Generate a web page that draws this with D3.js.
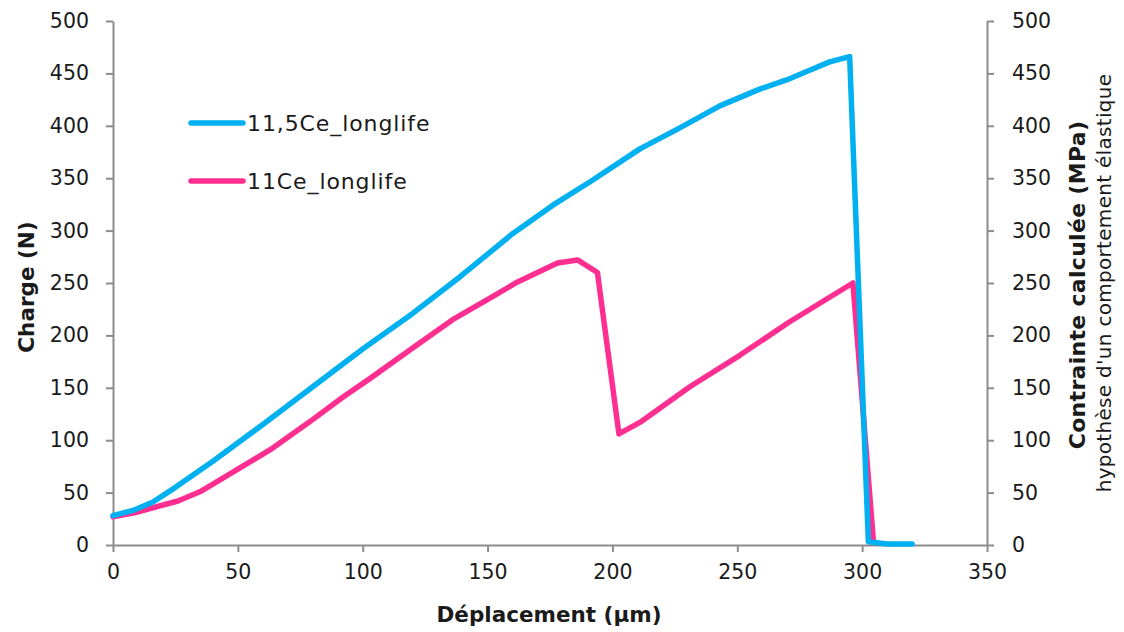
<!DOCTYPE html>
<html><head><meta charset="utf-8">
<script src="https://cdn.jsdelivr.net/npm/d3@7"></script>
<style>body{margin:0;background:#fff;} svg{display:block;font-family:"DejaVu Sans",sans-serif;}</style>
</head><body>
<svg id="c" width="1124" height="632"></svg>
<script>
const seriesNames = ["11,5Ce_longlife", "11Ce_longlife"];
const seriesColors = ["#00B0F0", "#FF2F92"];
const blueX = [0, 8, 16, 25, 40, 60, 80, 100, 120, 139, 160, 176, 192, 211, 227, 243, 259, 270, 278, 287, 295, 302.5, 310, 320];
const blueY = [28, 33, 41, 55, 80, 115, 151, 187, 221, 256, 297, 324, 348, 378, 398, 419, 435, 444, 452, 461, 466, 3, 1, 1];
const pinkX = [0, 9, 26, 35, 47, 63, 79, 92, 103, 120, 136, 152, 162, 178, 186, 194, 202.6, 211.7, 231, 251, 271, 296.3, 304.5];
const pinkY = [27, 31, 42, 51, 68, 91, 118, 141, 159, 188, 215, 237, 251, 269, 272, 260, 106, 118, 151, 181, 213, 250, 4];
const xTicks = [0, 50, 100, 150, 200, 250, 300, 350];
const yTicks = [0, 50, 100, 150, 200, 250, 300, 350, 400, 450, 500];
const xTitle = "Déplacement (µm)";
const yTitle = "Charge (N)";
const y2Title = "Contrainte calculée (MPa)";
const y2Sub = "hypothèse d'un comportement élastique";

const svg = d3.select("#c");
const L = 113, R = 987, T = 21, B = 545;
const x = d3.scaleLinear().domain([0, 350]).range([L, R]);
const y = d3.scaleLinear().domain([0, 500]).range([B, T]);
const axisCol = "#8c8c8c", textCol = "#1a1a1a";

function styleAxis(g) {
  g.selectAll("path.domain").attr("stroke", axisCol).attr("stroke-width", 2);
  g.selectAll(".tick line").attr("stroke", axisCol).attr("stroke-width", 2);
  g.selectAll(".tick text").attr("fill", textCol).attr("font-size", 20.5).attr("font-family", '"DejaVu Sans",sans-serif');
}
const gx = svg.append("g").attr("transform", `translate(0,${B})`)
  .call(d3.axisBottom(x).tickValues(xTicks).tickSize(7).tickSizeOuter(0).tickPadding(12));
styleAxis(gx);
const gy = svg.append("g").attr("transform", `translate(${L},0)`)
  .call(d3.axisLeft(y).tickValues(yTicks).tickSize(7).tickSizeOuter(0).tickPadding(17));
styleAxis(gy);
const gy2 = svg.append("g").attr("transform", `translate(${R},0)`)
  .call(d3.axisRight(y).tickValues(yTicks).tickSize(7).tickSizeOuter(0).tickPadding(18));
styleAxis(gy2);

const line = d3.line().x(d => x(d[0])).y(d => y(d[1]));
const data = [d3.zip(blueX, blueY), d3.zip(pinkX, pinkY)];
[1, 0].forEach(i => {
  svg.append("path").datum(data[i]).attr("d", line).attr("fill", "none")
    .attr("stroke", seriesColors[i]).attr("stroke-width", 5.5).attr("stroke-linejoin", "round").attr("stroke-linecap", "round");
});

// legend
const legY = [123, 181];
seriesNames.forEach((n, i) => {
  svg.append("line").attr("x1", 191).attr("x2", 243).attr("y1", legY[i]).attr("y2", legY[i])
    .attr("stroke", seriesColors[i]).attr("stroke-width", 5.5).attr("stroke-linecap", "round");
  svg.append("text").attr("x", 247).attr("y", legY[i]).attr("dy", "0.35em")
    .attr("font-size", 22).attr("letter-spacing", 0.9).attr("fill", textCol).text(n);
});

svg.append("text").attr("x", 549).attr("y", 614).attr("dy", "0.35em")
  .attr("text-anchor", "middle").attr("font-size", 21.5).attr("font-weight", "bold").attr("fill", textCol).text(xTitle);
svg.append("text").attr("transform", `translate(26,${(T + B) / 2 + 4}) rotate(-90)`).attr("dy", "0.35em")
  .attr("text-anchor", "middle").attr("font-size", 21.5).attr("font-weight", "bold").attr("fill", textCol).text(yTitle);
svg.append("text").attr("transform", `translate(1077,${(T + B) / 2 + 2}) rotate(-90)`).attr("dy", "0.35em")
  .attr("text-anchor", "middle").attr("font-size", 22).attr("letter-spacing", 0.3).attr("font-weight", "bold").attr("fill", textCol).text(y2Title);
svg.append("text").attr("transform", `translate(1104,${(T + B) / 2}) rotate(-90)`).attr("dy", "0.35em")
  .attr("text-anchor", "middle").attr("font-size", 20).attr("letter-spacing", 0.3).attr("fill", textCol).text(y2Sub);
</script>
</body></html>
